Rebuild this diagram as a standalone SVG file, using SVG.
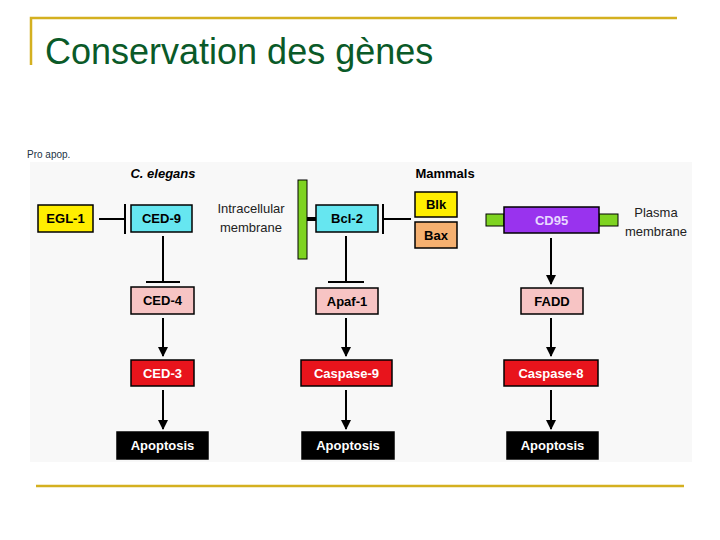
<svg xmlns="http://www.w3.org/2000/svg" width="720" height="540" viewBox="0 0 720 540">
<defs>
<style>
.b{stroke:#000;stroke-width:1.5}
.t{font-family:"Liberation Sans",Arial,sans-serif;font-weight:bold;font-size:13px;text-anchor:middle}
.n{font-family:"Liberation Sans",Arial,sans-serif;font-size:13px;text-anchor:middle;fill:#222}
.l{stroke:#000;stroke-width:2;fill:none}
</style>
<marker id="ar" viewBox="0 0 10 10" refX="9" refY="5" markerWidth="5" markerHeight="5" orient="auto" markerUnits="strokeWidth"><path d="M0,0L10,5L0,10z" fill="#000"/></marker>
</defs>
<rect width="720" height="540" fill="#fff"/>
<path d="M31,65V18H677" fill="none" stroke="#d4b020" stroke-width="2.5"/>
<line x1="36" y1="486" x2="684" y2="486" stroke="#d4b020" stroke-width="2.5"/>
<text x="45" y="64" font-family="Liberation Sans,Arial,sans-serif" font-size="36" fill="#0a5a28">Conservation des gènes</text>
<text x="27" y="158" font-family="Liberation Sans,Arial,sans-serif" font-size="10" fill="#234">Pro apop.</text>
<rect x="30" y="162" width="662" height="300" fill="#f8f8f8"/>
<text class="t" x="163" y="178" font-style="italic" font-size="14">C. elegans</text>
<text class="t" x="445" y="178">Mammals</text>
<text class="n" x="251" y="213">Intracellular</text>
<text class="n" x="251" y="232">membrane</text>
<text class="n" x="656" y="217">Plasma</text>
<text class="n" x="656" y="236">membrane</text>
<rect x="298" y="180" width="9" height="79" fill="#7ed321" stroke="#000" stroke-width="1"/>
<rect x="486" y="214" width="18" height="12" fill="#7ed321" stroke="#000" stroke-width="1"/>
<rect x="599" y="214" width="19" height="12" fill="#7ed321" stroke="#000" stroke-width="1"/>
<g id="connectors">
<path class="l" d="M99,219H125M125,204V234"/>
<path class="l" d="M163,236V282M146,282H180"/>
<path class="l" d="M163,318V356" marker-end="url(#ar)"/>
<path class="l" d="M163,390V429" marker-end="url(#ar)"/>
<path d="M307,219H316" stroke="#000" stroke-width="4"/>
<path class="l" d="M346,236V282M328,282H364"/>
<path class="l" d="M346,318V356" marker-end="url(#ar)"/>
<path class="l" d="M346,390V429" marker-end="url(#ar)"/>
<path class="l" d="M411,219H383M383,204V234"/>
<path class="l" d="M551,238V284" marker-end="url(#ar)"/>
<path class="l" d="M551,318V356" marker-end="url(#ar)"/>
<path class="l" d="M551,390V429" marker-end="url(#ar)"/>
</g>
<g id="egl1"><rect class="b" x="38" y="205" width="55" height="27" fill="#ffee00"/><text class="t" x="65.5" y="223">EGL-1</text></g>
<g id="ced9"><rect class="b" x="131" y="205" width="61" height="27" fill="#66e6f0"/><text class="t" x="161.5" y="223">CED-9</text></g>
<g id="ced4"><rect class="b" x="131" y="287" width="63" height="27" fill="#f7c4c4"/><text class="t" x="162.5" y="305">CED-4</text></g>
<g id="ced3"><rect class="b" x="131" y="360" width="63" height="26" fill="#e8141c"/><text class="t" x="162.5" y="378" fill="#fff">CED-3</text></g>
<g id="apo1"><rect class="b" x="117" y="432" width="91" height="27" fill="#000"/><text class="t" x="162.5" y="450" fill="#fff">Apoptosis</text></g>
<g id="bcl2"><rect class="b" x="316" y="205" width="62" height="27" fill="#66e6f0"/><text class="t" x="347" y="223">Bcl-2</text></g>
<g id="apaf1"><rect class="b" x="316" y="288" width="62" height="26" fill="#f7c4c4"/><text class="t" x="347" y="306">Apaf-1</text></g>
<g id="casp9"><rect class="b" x="301" y="360" width="91" height="26" fill="#e8141c"/><text class="t" x="346.5" y="378" fill="#fff">Caspase-9</text></g>
<g id="apo2"><rect class="b" x="302" y="432" width="92" height="27" fill="#000"/><text class="t" x="348" y="450" fill="#fff">Apoptosis</text></g>
<g id="blk"><rect class="b" x="415" y="192" width="42" height="25" fill="#ffee00"/><text class="t" x="436" y="209">Blk</text></g>
<g id="bax"><rect class="b" x="415" y="222" width="42" height="26" fill="#f5b070"/><text class="t" x="436" y="240">Bax</text></g>
<g id="cd95"><rect class="b" x="504" y="207" width="95" height="26" fill="#9933ee"/><text class="t" x="551.5" y="225" fill="#e8d8ff">CD95</text></g>
<g id="fadd"><rect class="b" x="521" y="288" width="62" height="26" fill="#f7c4c4"/><text class="t" x="552" y="306">FADD</text></g>
<g id="casp8"><rect class="b" x="504" y="360" width="94" height="26" fill="#e8141c"/><text class="t" x="551" y="378" fill="#fff">Caspase-8</text></g>
<g id="apo3"><rect class="b" x="507" y="432" width="91" height="27" fill="#000"/><text class="t" x="552.5" y="450" fill="#fff">Apoptosis</text></g>
</svg>
